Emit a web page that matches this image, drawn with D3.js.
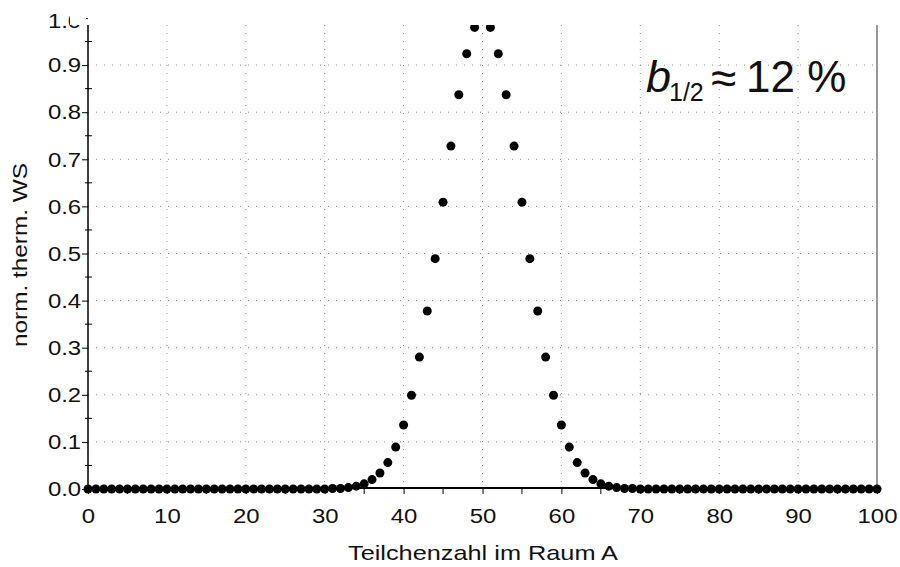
<!doctype html>
<meta charset="utf-8">
<title>norm. therm. WS</title>
<script src="https://cdn.jsdelivr.net/npm/d3@7"></script>
<style>
body { margin: 0; background: #fff; }
svg { display: block; font-family: "Liberation Sans", Arial, sans-serif; }
.grid line { stroke: #8a8a8a; stroke-width: 1; stroke-dasharray: 1,7; }
</style>
<svg id="chart" width="900" height="567"></svg>
<script>
// particle number in room A, 0..100
var counts = d3.range(0, 101);
// normalized values, left half 30..50 (the rest is 0, right half mirrors)
var leftVals = [0.000, 0.001, 0.001, 0.003, 0.006, 0.011, 0.020, 0.034, 0.056, 0.089,
                0.136, 0.199, 0.280, 0.378, 0.489, 0.609, 0.728, 0.837, 0.924, 0.980, 1.000];
var xTicks = [0, 10, 20, 30, 40, 50, 60, 70, 80, 90, 100];
var yTicks = [0, 0.1, 0.2, 0.3, 0.4, 0.5, 0.6, 0.7, 0.8, 0.9, 1.0];

var values = counts.map(function(n) {
  var k = n <= 50 ? n : 100 - n;
  return k < 30 ? 0 : leftVals[k - 30];
});

var svg = d3.select("#chart"),
    mLeft = 88, mRight = 877, mTop = 18, mBottom = 489, clipTop = 25;

var x = d3.scaleLinear().domain([0, 100]).range([mLeft, mRight]);
var y = d3.scaleLinear().domain([0, 1]).range([mBottom, mTop]);

// grid
var grid = svg.append("g").attr("class", "grid");
grid.selectAll("line.v").data(xTicks.slice(1, -1)).enter().append("line")
    .attr("x1", x).attr("x2", x).attr("y1", clipTop).attr("y2", mBottom);
grid.selectAll("line.h").data(yTicks.slice(1, -1)).enter().append("line")
    .attr("y1", y).attr("y2", y).attr("x1", mLeft).attr("x2", mRight);

// right frame line
svg.append("line").attr("x1", mRight).attr("x2", mRight)
    .attr("y1", clipTop).attr("y2", mBottom)
    .attr("stroke", "#555").attr("stroke-width", 1.2);

// y axis
var yAxis = svg.append("g").attr("transform", "translate(" + mLeft + ",0)")
    .call(d3.axisLeft(y).tickValues(yTicks).tickFormat(d3.format(".1f")).tickSize(6).tickPadding(0));
yAxis.select(".domain").remove();
yAxis.selectAll("text").attr("font-size", 21).attr("fill", "#111")
    .attr("font-family", "Liberation Sans, Arial, sans-serif")
    .attr("transform", function(d) { return d === 1 ? "translate(0,3) scale(1.14,1)" : "scale(1.14,1)"; });
yAxis.selectAll("line").attr("stroke", "#000");
svg.append("g").selectAll("line").data(d3.range(0.05, 1, 0.1)).enter().append("line")
    .attr("x1", mLeft - 3).attr("x2", mLeft + 4).attr("y1", y).attr("y2", y)
    .attr("stroke", "#000");
svg.append("line").attr("x1", mLeft).attr("x2", mLeft).attr("y1", clipTop).attr("y2", mBottom)
    .attr("stroke", "#000").attr("stroke-width", 1.5);

// x axis
var xAxis = svg.append("g").attr("transform", "translate(0," + mBottom + ")")
    .call(d3.axisBottom(x).tickValues(xTicks).tickSize(5).tickPadding(14));
xAxis.select(".domain").remove();
xAxis.selectAll("text").attr("font-size", 21).attr("fill", "#111")
    .attr("font-family", "Liberation Sans, Arial, sans-serif")
    .attr("transform", "scale(1.14,1)");
xAxis.selectAll("line").attr("stroke", "#000");
svg.append("g").selectAll("line").data(d3.range(5, 100, 10)).enter().append("line")
    .attr("x1", x).attr("x2", x).attr("y1", mBottom).attr("y2", mBottom + 5)
    .attr("stroke", "#000");
svg.append("line").attr("x1", mLeft).attr("x2", mRight).attr("y1", mBottom - 1).attr("y2", mBottom - 1)
    .attr("stroke", "#000").attr("stroke-width", 2);

// mask over the top of the "0" in the "1.0" label (cut off in the original)
svg.append("rect").attr("x", 70).attr("y", 0).attr("width", 16).attr("height", clipTop)
    .attr("fill", "#fff");

// points
svg.append("clipPath").attr("id", "plotClip").append("rect")
    .attr("x", 0).attr("y", clipTop).attr("width", 900).attr("height", 567 - clipTop);
svg.append("g").attr("clip-path", "url(#plotClip)")
  .selectAll("circle").data(counts).enter().append("circle")
    .attr("cx", function(d) { return x(d); })
    .attr("cy", function(d, i) { return y(values[i]); })
    .attr("r", 4.5)
    .attr("fill", "#000");

// axis titles
svg.append("text").attr("x", 483).attr("y", 560).attr("text-anchor", "middle")
    .attr("font-size", 21).attr("fill", "#111")
    .attr("textLength", 270).attr("lengthAdjust", "spacingAndGlyphs")
    .text("Teilchenzahl im Raum A");
svg.append("text").attr("transform", "translate(27,255) rotate(-90)").attr("text-anchor", "middle")
    .attr("font-size", 20).attr("fill", "#111")
    .attr("textLength", 184).attr("lengthAdjust", "spacingAndGlyphs")
    .text("norm. therm. WS");

// annotation
svg.append("text").attr("x", 646).attr("y", 92).attr("font-size", 45).attr("font-style", "italic")
    .attr("fill", "#111").text("b");
svg.append("text").attr("x", 669).attr("y", 101).attr("font-size", 25)
    .attr("fill", "#111").text("1/2");
svg.append("text").attr("x", 711).attr("y", 94).attr("font-size", 46)
    .attr("fill", "#111").text("\u2248");
svg.append("text").attr("x", 746).attr("y", 92).attr("font-size", 44)
    .attr("fill", "#111").text("12 %");
</script>
